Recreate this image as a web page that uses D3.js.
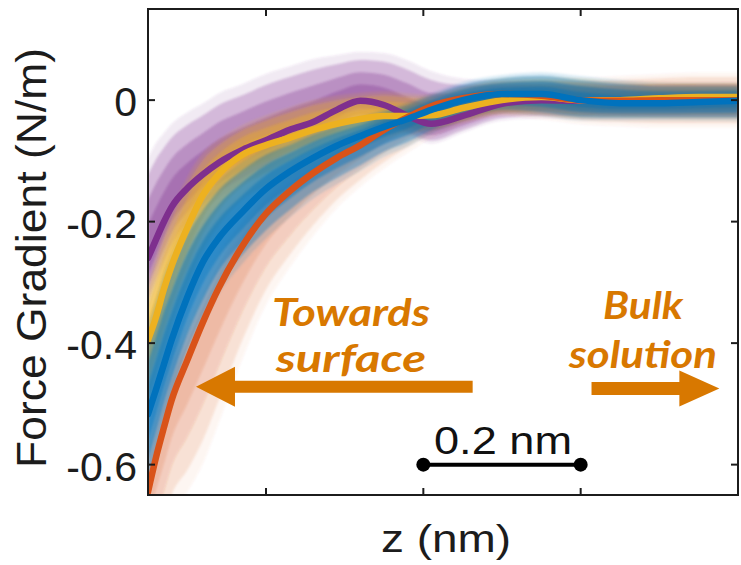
<!DOCTYPE html>
<html>
<head>
<meta charset="utf-8">
<script src="https://cdn.jsdelivr.net/npm/d3@7"></script>
<style>
  html, body { margin: 0; padding: 0; background: #ffffff; }
  svg { display: block; }
</style>
</head>
<body>
<svg id="chart" width="741" height="565"></svg>
<script>
// Tip-sample separation (nm) at which each curve is sampled
const zGrid = [0, 0.01, 0.02, 0.03, 0.05, 0.07, 0.09, 0.12, 0.15, 0.18, 0.21, 0.24,
               0.27, 0.30, 0.33, 0.36, 0.40, 0.45, 0.50, 0.55, 0.60, 0.65, 0.70, 0.75];

// Mean force-gradient curves (N/m)
const purpleMean = [-0.260, -0.230, -0.201, -0.176, -0.145, -0.122, -0.103, -0.082, -0.066, -0.049, -0.036, -0.016,
                    -0.001, -0.008, -0.026, -0.039, -0.026, -0.006, 0.000, -0.001, 0.000, 0.000, 0.000, 0.000];
const yellowMean = [-0.395, -0.358, -0.312, -0.273, -0.210, -0.156, -0.122, -0.090, -0.074, -0.062, -0.049, -0.039,
                    -0.031, -0.026, -0.026, -0.025, -0.013, 0.000, 0.005, 0.000, 0.000, 0.003, 0.005, 0.005];
const orangeMean = [-0.645, -0.589, -0.540, -0.494, -0.428, -0.365, -0.309, -0.240, -0.187, -0.150, -0.120, -0.095,
                    -0.074, -0.049, -0.028, -0.010, 0.003, 0.010, 0.007, 0.000, -0.001, 0.000, 0.000, 0.000];
const blueMean   = [-0.517, -0.477, -0.436, -0.395, -0.324, -0.266, -0.227, -0.184, -0.146, -0.118, -0.095, -0.075,
                    -0.059, -0.044, -0.031, -0.016, 0.000, 0.010, 0.010, 0.000, -0.005, -0.005, -0.003, -0.001];

// Spread of the individual curves in each set: upper and lower envelopes (N/m)
const purpleHigh = [-0.123, -0.098, -0.079, -0.062, -0.041, -0.025, -0.008, 0.008, 0.025, 0.038, 0.050, 0.059,
                    0.066, 0.063, 0.050, 0.033, 0.025, 0.025, 0.025, 0.025, 0.025, 0.025, 0.025, 0.025];
const purpleLow  = [-0.329, -0.296, -0.266, -0.238, -0.201, -0.172, -0.151, -0.128, -0.107, -0.085, -0.069, -0.049,
                    -0.033, -0.036, -0.052, -0.066, -0.049, -0.029, -0.025, -0.025, -0.025, -0.025, -0.025, -0.025];
const yellowHigh = [-0.312, -0.271, -0.230, -0.197, -0.140, -0.098, -0.074, -0.049, -0.033, -0.020, -0.008, 0.000,
                    0.005, 0.008, 0.005, 0.003, 0.017, 0.030, 0.033, 0.030, 0.025, 0.025, 0.025, 0.025];
const yellowLow  = [-0.494, -0.452, -0.411, -0.370, -0.304, -0.247, -0.206, -0.164, -0.140, -0.118, -0.098, -0.082,
                    -0.069, -0.059, -0.052, -0.046, -0.033, -0.020, -0.020, -0.025, -0.025, -0.025, -0.025, -0.025];
const orangeHigh = [-0.559, -0.510, -0.460, -0.419, -0.362, -0.304, -0.255, -0.201, -0.153, -0.118, -0.093, -0.071,
                    -0.052, -0.029, -0.008, 0.008, 0.020, 0.030, 0.030, 0.030, 0.033, 0.036, 0.038, 0.038];
const orangeLow  = [-0.757, -0.724, -0.691, -0.650, -0.609, -0.559, -0.494, -0.395, -0.312, -0.255, -0.206, -0.164,
                    -0.131, -0.102, -0.077, -0.054, -0.033, -0.020, -0.025, -0.033, -0.036, -0.038, -0.038, -0.038];
const blueHigh   = [-0.395, -0.354, -0.312, -0.280, -0.222, -0.181, -0.148, -0.115, -0.090, -0.074, -0.057, -0.044,
                    -0.033, -0.020, -0.008, 0.007, 0.025, 0.036, 0.040, 0.033, 0.027, 0.023, 0.023, 0.023];
const blueLow    = [-0.625, -0.576, -0.526, -0.485, -0.411, -0.354, -0.304, -0.255, -0.214, -0.181, -0.151, -0.128,
                    -0.107, -0.085, -0.069, -0.049, -0.029, -0.016, -0.020, -0.028, -0.029, -0.029, -0.029, -0.029];

// Axis ticks
const yTicks = [0, -0.2, -0.4, -0.6];
const yTickLabels = ["0", "-0.2", "-0.4", "-0.6"];
const xTicks = [0.15, 0.35, 0.55];

// Scale bar: 0.2 nm
const scaleBarZ = [0.35, 0.55];
const scaleBarF = -0.6;
const scaleBarLabel = "0.2 nm";

const xLabel = "z (nm)";
const yLabel = "Force Gradient (N/m)";

// ---------------------------------------------------------------
const svg = d3.select("#chart");
const plot = { left: 148, right: 738, top: 9, bottom: 495 };

const x = d3.scaleLinear().domain([0, 0.75]).range([plot.left, plot.right]);
const y = d3.scaleLinear().domain([-0.65, 0.15]).range([plot.bottom, plot.top]);

const axisColor = "#1c1c1c";
const annotColor = "#d87800";

const defs = svg.append("defs");
defs.append("clipPath").attr("id", "plot-clip")
  .append("rect")
  .attr("x", plot.left).attr("y", plot.top)
  .attr("width", plot.right - plot.left).attr("height", plot.bottom - plot.top);
// soft edges for the bundles of individual curves
defs.append("filter").attr("id", "soften")
  .attr("x", "-5%").attr("y", "-5%").attr("width", "110%").attr("height", "110%")
  .append("feGaussianBlur").attr("stdDeviation", 1.3);

const sets = [
  { name: "purple", color: "#7E2F8E", mean: purpleMean, hi: purpleHigh, lo: purpleLow, density: 1.05 },
  { name: "yellow", color: "#EDB120", mean: yellowMean, hi: yellowHigh, lo: yellowLow, density: 1.3 },
  { name: "orange", color: "#D95319", mean: orangeMean, hi: orangeHigh, lo: orangeLow, density: 0.5 },
  { name: "blue",   color: "#0072BD", mean: blueMean,   hi: blueHigh,   lo: blueLow,   density: 1.45 }
];

const dataLayer = svg.append("g").attr("clip-path", "url(#plot-clip)");

// Spread of the individual curves: a faint fringe of outliers, then nested
// bands that get denser towards the mean curve
const bandLevels = [
  { frac: 1.2,  opacity: 0.1 },
  { frac: 1.0,  opacity: 0.24 },
  { frac: 0.7,  opacity: 0.3 },
  { frac: 0.4,  opacity: 0.3 }
];

sets.forEach(s => {
  const pts = zGrid.map((z, i) => ({ z, m: s.mean[i], hi: s.hi[i], lo: s.lo[i] }));
  const g = dataLayer.append("g").attr("class", "spread " + s.name).attr("filter", "url(#soften)");
  bandLevels.forEach(b => {
    const area = d3.area()
      .curve(d3.curveMonotoneX)
      .x(d => x(d.z))
      .y0(d => y(d.m + b.frac * (d.lo - d.m)))
      .y1(d => y(d.m + b.frac * (d.hi - d.m)));
    g.append("path")
      .datum(pts)
      .attr("d", area)
      .attr("fill", s.color)
      .attr("fill-opacity", Math.min(0.9, b.opacity * s.density))
      .attr("stroke", "none");
  });
});

// Mean curves
const line = d3.line().curve(d3.curveMonotoneX).x(d => x(d.z)).y(d => y(d.v));
sets.forEach(s => {
  dataLayer.append("path")
    .datum(zGrid.map((z, i) => ({ z, v: s.mean[i] })))
    .attr("class", "mean " + s.name)
    .attr("d", line)
    .attr("fill", "none")
    .attr("stroke", s.color)
    .attr("stroke-width", 6.5)
    .attr("stroke-linejoin", "round")
    .attr("stroke-linecap", "round");
});

// Axes box with inward ticks on all sides
const axes = svg.append("g").attr("class", "axes");
axes.append("rect")
  .attr("x", plot.left).attr("y", plot.top)
  .attr("width", plot.right - plot.left).attr("height", plot.bottom - plot.top)
  .attr("fill", "none").attr("stroke", axisColor).attr("stroke-width", 2);

const tickLen = 7;
yTicks.forEach(t => {
  axes.append("line").attr("x1", plot.left).attr("x2", plot.left + tickLen)
    .attr("y1", y(t)).attr("y2", y(t)).attr("stroke", axisColor).attr("stroke-width", 2);
  axes.append("line").attr("x1", plot.right).attr("x2", plot.right - tickLen)
    .attr("y1", y(t)).attr("y2", y(t)).attr("stroke", axisColor).attr("stroke-width", 2);
});
xTicks.forEach(t => {
  axes.append("line").attr("x1", x(t)).attr("x2", x(t))
    .attr("y1", plot.bottom).attr("y2", plot.bottom - tickLen).attr("stroke", axisColor).attr("stroke-width", 2);
  axes.append("line").attr("x1", x(t)).attr("x2", x(t))
    .attr("y1", plot.top).attr("y2", plot.top + tickLen).attr("stroke", axisColor).attr("stroke-width", 2);
});

const axisFont = "'Liberation Sans', Arial, Helvetica, sans-serif";
axes.selectAll("text.ytick")
  .data(yTicks)
  .join("text")
  .attr("class", "ytick")
  .attr("x", plot.left - 11)
  .attr("y", d => y(d) + 16)
  .attr("text-anchor", "end")
  .attr("font-family", axisFont)
  .attr("font-size", 41)
  .attr("fill", axisColor)
  .text((d, i) => yTickLabels[i]);

svg.append("text")
  .attr("transform", `translate(46,${(plot.top + plot.bottom) / 2 + 6}) rotate(-90)`)
  .attr("text-anchor", "middle")
  .attr("font-family", axisFont)
  .attr("font-size", 42)
  .attr("fill", axisColor)
  .attr("textLength", 420)
  .attr("lengthAdjust", "spacingAndGlyphs")
  .text(yLabel);

svg.append("text")
  .attr("x", 446)
  .attr("y", 552)
  .attr("text-anchor", "middle")
  .attr("font-family", axisFont)
  .attr("font-size", 38)
  .attr("fill", axisColor)
  .attr("textLength", 130)
  .attr("lengthAdjust", "spacingAndGlyphs")
  .text(xLabel);

// Scale bar
const sb = svg.append("g").attr("class", "scale-bar");
sb.append("line")
  .attr("x1", x(scaleBarZ[0])).attr("x2", x(scaleBarZ[1]))
  .attr("y1", y(scaleBarF)).attr("y2", y(scaleBarF))
  .attr("stroke", "#000").attr("stroke-width", 4);
sb.selectAll("circle").data(scaleBarZ).join("circle")
  .attr("cx", d => x(d)).attr("cy", y(scaleBarF)).attr("r", 7).attr("fill", "#000");
sb.append("text")
  .attr("x", (x(scaleBarZ[0]) + x(scaleBarZ[1])) / 2 + 1)
  .attr("y", y(scaleBarF) - 11)
  .attr("text-anchor", "middle")
  .attr("font-family", axisFont)
  .attr("font-size", 38)
  .attr("fill", "#111")
  .attr("textLength", 138)
  .attr("lengthAdjust", "spacingAndGlyphs")
  .text(scaleBarLabel);

// Direction annotations
const annotFont = "Lato, 'Open Sans', 'DejaVu Sans', sans-serif";
function arrow(g, zTail, zTip, f, halfShaft, halfHead, headLen) {
  const xt = x(zTail), xp = x(zTip), yc = y(f);
  const dir = Math.sign(xp - xt);
  const xb = xp - dir * headLen;
  const pts = [
    [xt, yc - halfShaft], [xb, yc - halfShaft], [xb, yc - halfHead], [xp, yc],
    [xb, yc + halfHead], [xb, yc + halfShaft], [xt, yc + halfShaft]
  ];
  g.append("path").attr("d", "M" + pts.map(p => p.join(",")).join("L") + "Z").attr("fill", annotColor);
}
function label(g, lines, cx, baselines, size, lengths) {
  lines.forEach((t, i) => {
    g.append("text")
      .attr("x", cx).attr("y", baselines[i])
      .attr("text-anchor", "middle")
      .attr("font-family", annotFont)
      .attr("font-weight", 700)
      .attr("font-style", "italic")
      .attr("font-size", size)
      .attr("fill", annotColor)
      .attr("textLength", lengths[i])
      .attr("lengthAdjust", "spacingAndGlyphs")
      .text(t);
  });
}
const ann = svg.append("g").attr("class", "annotations");
arrow(ann, 0.4127, 0.061, -0.472, 6, 20, 39);
arrow(ann, 0.5638, 0.7263, -0.4747, 6.5, 18, 40);
label(ann, ["Towards", "surface"], 351, [326, 372], 38, [158, 150]);
label(ann, ["Bulk", "solution"], 643, [319, 368], 38, [80, 148]);
</script>
</body>
</html>
